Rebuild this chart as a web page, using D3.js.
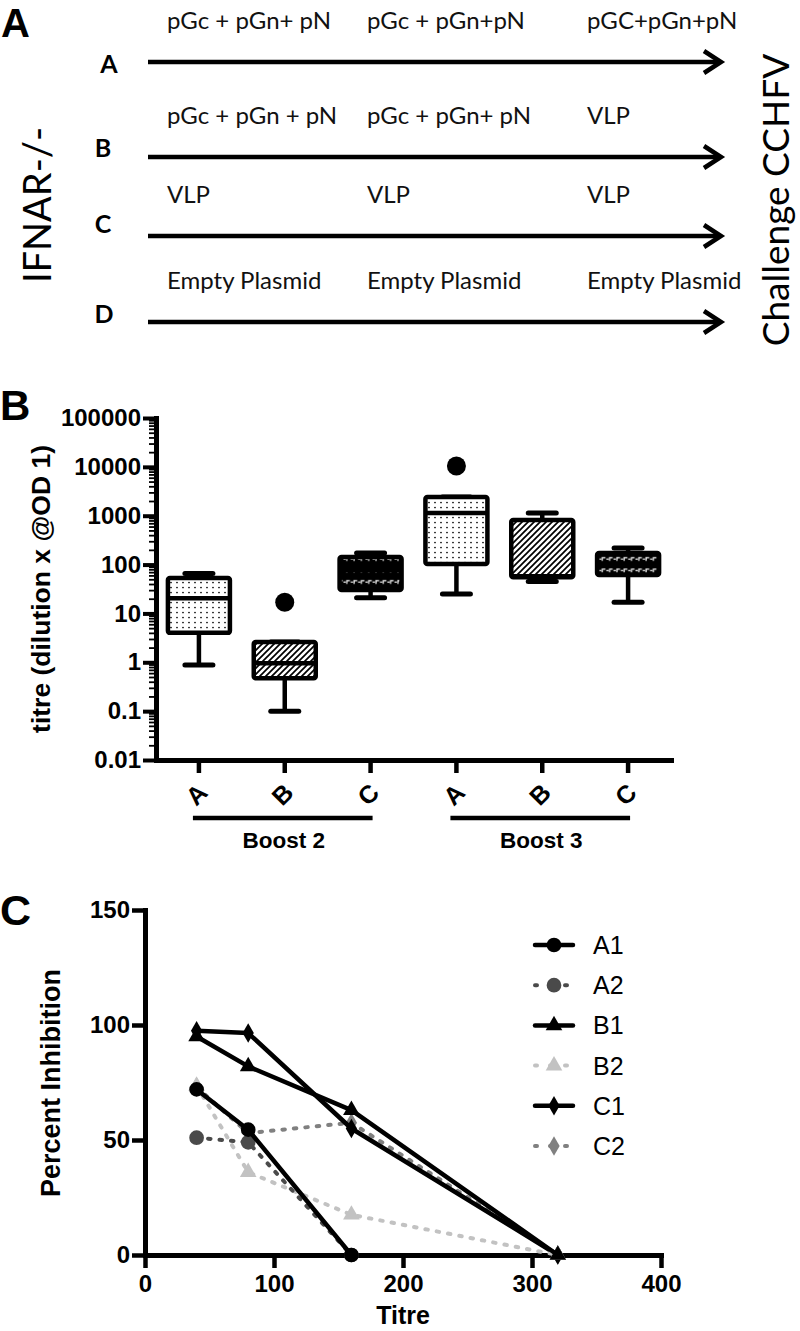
<!DOCTYPE html>
<html><head><meta charset="utf-8">
<script src="https://cdn.jsdelivr.net/npm/d3@7"></script>
<style>body{margin:0;background:#fff}svg{display:block}</style>
</head><body><svg id="c" width="800" height="1331"></svg>
<script>
// ================= DATA =================
// Panel A : immunisation schedule
const regimenGroups = ["A", "B", "C", "D"];
const dose1 = ["pGc + pGn+ pN", "pGc + pGn + pN", "VLP", "Empty Plasmid"];
const dose2 = ["pGc + pGn+pN", "pGc + pGn+ pN", "VLP", "Empty Plasmid"];
const dose3 = ["pGC+pGn+pN", "VLP", "VLP", "Empty Plasmid"];
const hostLabel = "IFNAR-/-";
const challengeLabel = "Challenge CCHFV";

// Panel B : titre box plots
const boxCategories = ["A", "B", "C", "A", "B", "C"];
const boxBoost = ["Boost 2", "Boost 2", "Boost 2", "Boost 3", "Boost 3", "Boost 3"];
const boxMin    = [0.88, 0.1, 21, 25, 45, 17];
const boxQ1     = [4.0, 0.47, 30, 103, 55, 61];
const boxMedian = [20.5, 0.95, 77, 1135, 58, 103];
const boxQ3     = [53, 2.6, 143, 2415, 817, 172];
const boxMax    = [66, 2.6, 172, 2415, 1135, 218];
const boxOutlier = [null, 17, null, 10400, null, null];
const titreTicks = [0.01, 0.1, 1, 10, 100, 1000, 10000, 100000];
const titreTickLabels = ["0.01", "0.1", "1", "10", "100", "1000", "10000", "100000"];

// Panel C : percent inhibition
const titreDilutions = [40, 80, 160, 320];
const seriesNames = ["A1", "A2", "B1", "B2", "C1", "C2"];
const inhA1 = [72, 54.5, 0];
const inhA2 = [51, 49, 0];
const inhB1 = [95, 82, 63, 0];
const inhB2 = [73.5, 36, 17.5, 0];
const inhC1 = [97.5, 96.5, 55, 0];
const inhC2 = [73, 53, 57.5, 0];
const inhXTicks = [0, 100, 200, 300, 400];
const inhYTicks = [0, 50, 100, 150];

// ================= STYLE / LAYOUT =================
const svg = d3.select("#c");
const BOLD = "'Liberation Sans', Arial, sans-serif";
const CAL = "Lato, 'Open Sans', sans-serif";
const defs = svg.append("defs");

// patterns
const pd = defs.append("pattern").attr("id", "pDots").attr("patternUnits", "userSpaceOnUse")
  .attr("width", 6).attr("height", 5);
pd.append("rect").attr("width", 6).attr("height", 5).attr("fill", "#fff");
pd.append("circle").attr("cx", 3).attr("cy", 2.5).attr("r", 0.85).attr("fill", "#000");

const ph = defs.append("pattern").attr("id", "pHatch").attr("patternUnits", "userSpaceOnUse")
  .attr("width", 6).attr("height", 6);
ph.append("rect").attr("width", 6).attr("height", 6).attr("fill", "#fff");
ph.append("path").attr("d", "M-1,1 L1,-1 M0,6 L6,0 M5,7 L7,5").attr("stroke", "#000").attr("stroke-width", 1.7);

const pc = defs.append("pattern").attr("id", "pDash").attr("patternUnits", "userSpaceOnUse")
  .attr("width", 7.3).attr("height", 11.5).attr("y", 1);
pc.append("rect").attr("width", 7.3).attr("height", 11.5).attr("fill", "#000");
pc.append("path").attr("d", "M0.4,6 H2.6 M3.7,8 V4.6 H6.8").attr("stroke", "#fff").attr("stroke-width", 1.2).attr("fill", "none");
const patternIds = {A: "url(#pDots)", B: "url(#pHatch)", C: "url(#pDash)"};

const blur = defs.append("filter").attr("id", "shadow").attr("x", "-10%").attr("y", "-200%").attr("width", "120%").attr("height", "500%");
blur.append("feGaussianBlur").attr("stdDeviation", 1.6);

// ================= PANEL A =================
const rowArrowY = [62, 157, 236, 322];
const rowLabelY = [73, 157, 233, 323];
const rowLabelX = [109, 103, 103, 104];
const doseX = [167, 367, 587];
const gA = svg.append("g");
gA.append("text").text("A").attr("x", 1).attr("y", 37).attr("font-family", BOLD)
  .attr("font-weight", "bold").attr("font-size", 40);

regimenGroups.forEach((grp, i) => {
  const y = rowArrowY[i];
  gA.append("text").text(grp).attr("x", rowLabelX[i]).attr("y", rowLabelY[i])
    .attr("text-anchor", "middle").attr("font-family", CAL).attr("font-weight", "bold").attr("font-size", 25);
  gA.append("line").attr("x1", 148).attr("x2", 720).attr("y1", y).attr("y2", y)
    .attr("stroke", "#000").attr("stroke-width", 4.5);
  gA.append("path").attr("d", `M704,${y - 11} L721,${y} L704,${y + 11}`)
    .attr("fill", "none").attr("stroke", "#000").attr("stroke-width", 4.5).attr("stroke-linejoin", "miter");
  [dose1[i], dose2[i], dose3[i]].forEach((t, j) => {
    gA.append("text").text(t).attr("x", doseX[j]).attr("y", y - 33)
      .attr("font-family", CAL).attr("font-size", 24).attr("fill", "#111");
  });
});
gA.append("text").text(hostLabel).attr("transform", "translate(51,205) rotate(-90)")
  .attr("text-anchor", "middle").attr("font-family", CAL).attr("font-size", 38);
gA.append("text").text(challengeLabel).attr("transform", "translate(789,200) rotate(-90)")
  .attr("text-anchor", "middle").attr("font-family", CAL).attr("font-size", 37);

// ================= PANEL B =================
const gB = svg.append("g");
gB.append("text").text("B").attr("x", 0).attr("y", 420).attr("font-family", BOLD)
  .attr("font-weight", "bold").attr("font-size", 42);

const xB = d3.scaleBand().domain(d3.range(boxCategories.length)).range([156, 671]);
const yB = d3.scaleLog().domain([0.01, 100000]).range([760, 418]);

// minor ticks
const minor = [];
for (let e = -2; e < 5; e++) for (let k = 2; k <= 9; k++) minor.push(k * Math.pow(10, e));
const minorAxis = gB.append("g").attr("transform", "translate(156,0)")
  .call(d3.axisLeft(yB).tickValues(minor).tickSize(7).tickSizeOuter(0).tickFormat(""));
minorAxis.select(".domain").remove();
minorAxis.selectAll("line").attr("stroke-width", 1.8);

const yAxisB = gB.append("g").attr("transform", "translate(156,0)")
  .call(d3.axisLeft(yB).tickValues(titreTicks).tickSize(13).tickPadding(2).tickSizeOuter(0)
    .tickFormat((d, i) => titreTickLabels[i]));
yAxisB.select(".domain").attr("stroke-width", 5).attr("stroke-linecap", "square");
yAxisB.selectAll(".tick line").attr("stroke-width", 4);
yAxisB.selectAll("text").attr("font-family", BOLD).attr("font-weight", "bold").attr("font-size", 24).attr("fill", "#000");

const xAxisB = gB.append("g").attr("transform", "translate(0,760)")
  .call(d3.axisBottom(xB).tickSize(13).tickSizeOuter(0).tickFormat(i => boxCategories[i]));
xAxisB.select(".domain").attr("stroke-width", 5).attr("stroke-linecap", "square");
xAxisB.selectAll(".tick line").attr("stroke-width", 4.5);
xAxisB.selectAll("text").attr("x", 0).attr("y", 0).attr("dy", "0.35em")
  .attr("transform", "translate(4,28) rotate(-45)").attr("text-anchor", "end")
  .attr("font-family", BOLD).attr("font-weight", "bold").attr("font-size", 25).attr("fill", "#000");

gB.append("text").text("titre (dilution x @OD 1)").attr("transform", "translate(50,589) rotate(-90)")
  .attr("text-anchor", "middle").attr("font-family", BOLD).attr("font-weight", "bold").attr("font-size", 26.5);

// boxes
const bw = 62;
boxCategories.forEach((cat, i) => {
  const cx = xB(i) + xB.bandwidth() / 2;
  const g = gB.append("g");
  const ln = (x1, y1, x2, y2, w, cap) => g.append("line").attr("x1", x1).attr("y1", y1).attr("x2", x2).attr("y2", y2)
    .attr("stroke", "#000").attr("stroke-width", w).attr("stroke-linecap", cap || "butt");
  ln(cx, yB(boxMax[i]), cx, yB(boxQ3[i]), 4.5);
  ln(cx, yB(boxQ1[i]), cx, yB(boxMin[i]), 4.5);
  ln(cx - 14, yB(boxMax[i]), cx + 14, yB(boxMax[i]), 5, "round");
  ln(cx - 14, yB(boxMin[i]), cx + 14, yB(boxMin[i]), 5, "round");
  g.append("rect").attr("x", cx - bw / 2).attr("y", yB(boxQ3[i])).attr("width", bw)
    .attr("height", yB(boxQ1[i]) - yB(boxQ3[i])).attr("rx", 2)
    .attr("fill", patternIds[cat]).attr("stroke", "#000").attr("stroke-width", 4.5);
  ln(cx - bw / 2, yB(boxMedian[i]), cx + bw / 2, yB(boxMedian[i]), 4.5);
  if (boxOutlier[i] != null)
    g.append("circle").attr("cx", cx).attr("cy", yB(boxOutlier[i])).attr("r", 9.5).attr("fill", "#000");
});

// boost group lines
const boosts = Array.from(new Set(boxBoost));
boosts.forEach(b => {
  const idx = boxBoost.map((v, i) => v === b ? i : -1).filter(i => i >= 0);
  const x1 = xB(idx[0]) + xB.bandwidth() / 2 - 6;
  const x2 = xB(idx[idx.length - 1]) + xB.bandwidth() / 2 + 2;
  gB.append("line").attr("x1", x1 + 2).attr("x2", x2 + 2).attr("y1", 822).attr("y2", 822)
    .attr("stroke", "#999").attr("stroke-width", 4).attr("filter", "url(#shadow)");
  gB.append("line").attr("x1", x1).attr("x2", x2).attr("y1", 818).attr("y2", 818)
    .attr("stroke", "#000").attr("stroke-width", 4.5);
  gB.append("text").text(b).attr("x", (x1 + x2) / 2 + 1).attr("y", 848).attr("text-anchor", "middle")
    .attr("font-family", BOLD).attr("font-weight", "bold").attr("font-size", 22.5);
});

// ================= PANEL C =================
const gC = svg.append("g");
gC.append("text").text("C").attr("x", 0).attr("y", 925).attr("font-family", BOLD)
  .attr("font-weight", "bold").attr("font-size", 43);

const xC = d3.scaleLinear().domain([0, 400]).range([145, 661]);
const yC = d3.scaleLinear().domain([0, 150]).range([1255, 910]);

const yAxisC = gC.append("g").attr("transform", "translate(145,0)")
  .call(d3.axisLeft(yC).tickValues(inhYTicks).tickSize(13).tickPadding(2).tickSizeOuter(0));
const xAxisC = gC.append("g").attr("transform", "translate(0,1255)")
  .call(d3.axisBottom(xC).tickValues(inhXTicks).tickSize(13).tickPadding(7).tickSizeOuter(0));
[yAxisC, xAxisC].forEach(a => {
  a.select(".domain").attr("stroke-width", 5).attr("stroke-linecap", "square");
  a.selectAll(".tick line").attr("stroke-width", 4.5);
  a.selectAll("text").attr("font-family", BOLD).attr("font-weight", "bold").attr("font-size", 24).attr("fill", "#000");
});
gC.append("text").text("Percent Inhibition").attr("transform", "translate(60,1083) rotate(-90)")
  .attr("text-anchor", "middle").attr("font-family", BOLD).attr("font-weight", "bold").attr("font-size", 27);
gC.append("text").text("Titre").attr("x", 403).attr("y", 1324).attr("text-anchor", "middle")
  .attr("font-family", BOLD).attr("font-weight", "bold").attr("font-size", 25);

const seriesValues = [inhA1, inhA2, inhB1, inhB2, inhC1, inhC2];
const seriesColor = ["#000", "#4a4a4a", "#000", "#c2c2c2", "#000", "#808080"];
const seriesDotted = [false, true, false, true, false, true];
const seriesSymbol = [d3.symbolCircle, d3.symbolCircle, d3.symbolTriangle, d3.symbolTriangle, d3.symbolDiamond, d3.symbolDiamond];
const symbolSize = s => s === d3.symbolCircle ? 170 : (s === d3.symbolTriangle ? 120 : 110);

const line = d3.line().x(d => xC(d[0])).y(d => yC(d[1]));
const order = [5, 4, 3, 2, 1, 0];
order.forEach(i => {
  const pts = seriesValues[i].map((v, k) => [titreDilutions[k], v]);
  const g = gC.append("g");
  g.append("path").attr("d", line(pts)).attr("fill", "none").attr("stroke", seriesColor[i])
    .attr("stroke-width", seriesDotted[i] ? 4 : 4.5)
    .attr("stroke-dasharray", seriesDotted[i] ? "2.5,9" : null)
    .attr("stroke-linecap", seriesDotted[i] ? "round" : "butt")
    .attr("stroke-linejoin", "round");
  g.selectAll("path.m").data(pts).join("path").attr("class", "m")
    .attr("transform", d => `translate(${xC(d[0])},${yC(d[1])})`)
    .attr("d", d3.symbol().type(seriesSymbol[i]).size(symbolSize(seriesSymbol[i])))
    .attr("fill", seriesColor[i]);
});

// legend
const legY = d3.scalePoint().domain(seriesNames).range([945, 1146]);
seriesNames.forEach((name, i) => {
  const y = legY(name);
  const g = gC.append("g");
  g.append("line").attr("x1", 535).attr("x2", 573).attr("y1", y).attr("y2", y)
    .attr("stroke", seriesColor[i]).attr("stroke-width", seriesDotted[i] ? 4 : 4.5)
    .attr("stroke-dasharray", seriesDotted[i] ? "2,13" : null)
    .attr("stroke-linecap", "round");
  g.append("path").attr("transform", `translate(554,${y})`)
    .attr("d", d3.symbol().type(seriesSymbol[i]).size(symbolSize(seriesSymbol[i]))).attr("fill", seriesColor[i]);
  g.append("text").text(name).attr("x", 593).attr("y", y).attr("dy", "0.36em")
    .attr("font-family", BOLD).attr("font-size", 25);
});
</script></body></html>
